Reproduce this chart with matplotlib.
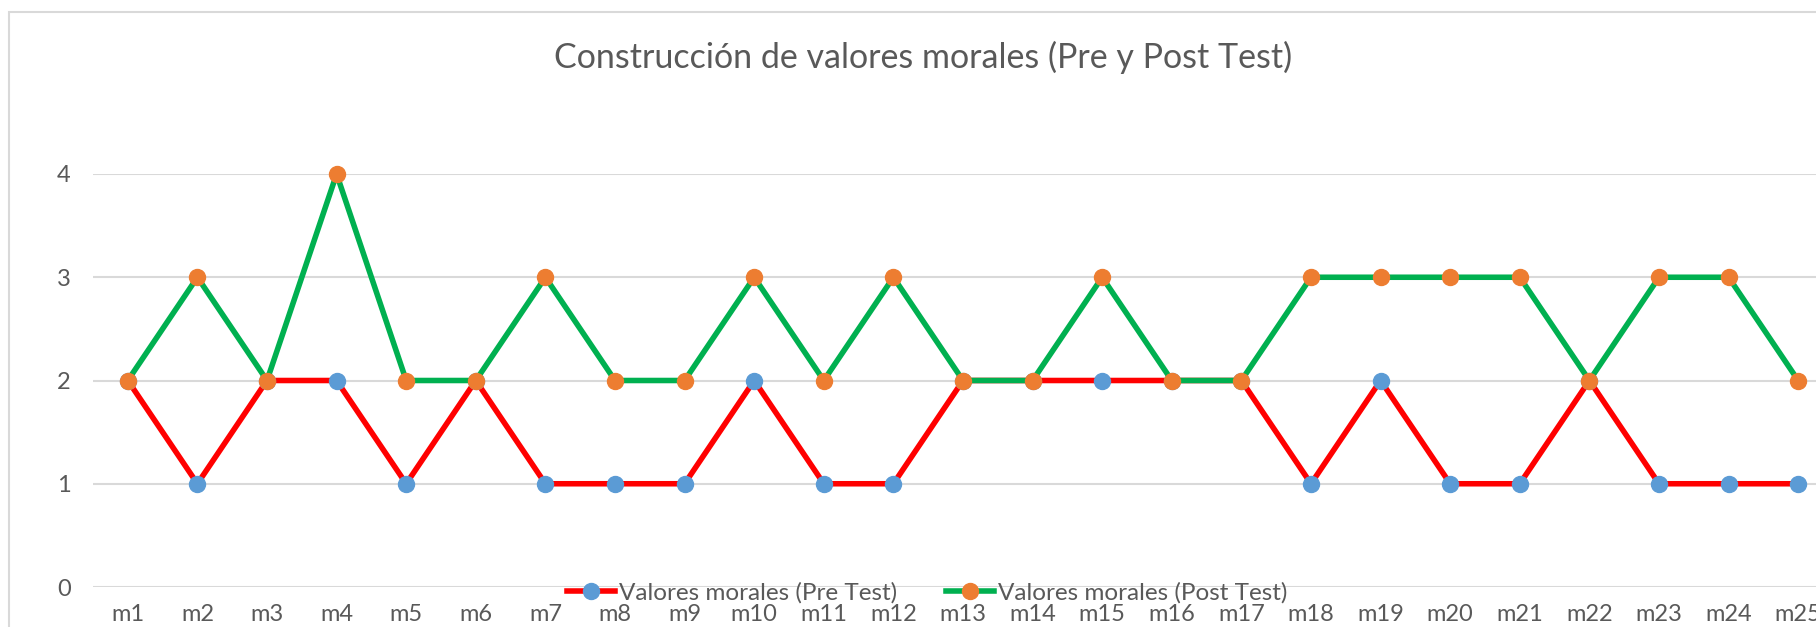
import matplotlib.pyplot as plt
from matplotlib.lines import Line2D
from matplotlib.patches import Rectangle

plt.rcParams['font.family'] = ['Lato', 'DejaVu Sans']

# categories and scores
items = ['m%d' % i for i in range(1, 26)]
pre_test = [2, 1, 2, 2, 1, 2, 1, 1, 1, 2, 1, 1, 2, 2, 2, 2, 2, 1, 2, 1, 1, 2, 1, 1, 1]
post_test = [2, 3, 2, 4, 2, 2, 3, 2, 2, 3, 2, 3, 2, 2, 3, 2, 2, 3, 3, 3, 3, 2, 3, 3, 2]
y_ticks = [0, 1, 2, 3, 4]

W, H = 1816, 627
fig = plt.figure(figsize=(W / 100, H / 100), dpi=100)

# chart border (right side falls outside the picture)
fig.patches.append(Rectangle((9 / W, -0.1), 1.2, 1 - 12 / H + 0.1,
                             transform=fig.transFigure, fill=False,
                             edgecolor='#d9d9d9', linewidth=1.5))

# plot area: 25 category slots of ~69.6 px, starting at x=93
ax = fig.add_axes([93 / W, 1 - 587 / H, 25 * 69.6 / W, 413 / H])
ax.set_xlim(-0.5, 24.5)
ax.set_ylim(0, 4)

x = list(range(len(items)))
ax.plot(x, pre_test, color='#FF0000', linewidth=4, marker='o',
        markersize=11.5, markerfacecolor='#5B9BD5', markeredgecolor='#5B9BD5',
        clip_on=False, zorder=3)
ax.plot(x, post_test, color='#00B050', linewidth=4, marker='o',
        markersize=11.5, markerfacecolor='#ED7D31', markeredgecolor='#ED7D31',
        clip_on=False, zorder=4)

ax.set_yticks(y_ticks)
ax.set_xticks(x)
ax.set_xticklabels(items)
ax.tick_params(length=0, labelsize=17, labelcolor='#595959')
ax.tick_params(axis='y', pad=16)
ax.tick_params(axis='x', pad=12)
ax.grid(axis='y', color='#d9d9d9', linewidth=1.5)
ax.set_axisbelow(True)
for s in ax.spines.values():
    s.set_visible(False)

fig.text(923 / W, 1 - 57 / H, 'Construcción de valores morales (Pre y Post Test)',
         ha='center', va='center', fontsize=24.5, color='#595959')

handles = [
    Line2D([], [], color='#FF0000', linewidth=4, marker='o', markersize=11.5,
           markerfacecolor='#5B9BD5', markeredgecolor='#5B9BD5'),
    Line2D([], [], color='#00B050', linewidth=4, marker='o', markersize=11.5,
           markerfacecolor='#ED7D31', markeredgecolor='#ED7D31'),
]
fig.legend(handles, ['Valores morales (Pre Test)', 'Valores morales (Post Test)'],
           loc='center', bbox_to_anchor=(927 / W, 1 - 593 / H), ncol=2,
           frameon=False, fontsize=17.5, labelcolor='#595959',
           handlelength=2.0, handletextpad=0.15, columnspacing=2.0,
           borderpad=0)

fig.savefig('out.png', dpi=100)
